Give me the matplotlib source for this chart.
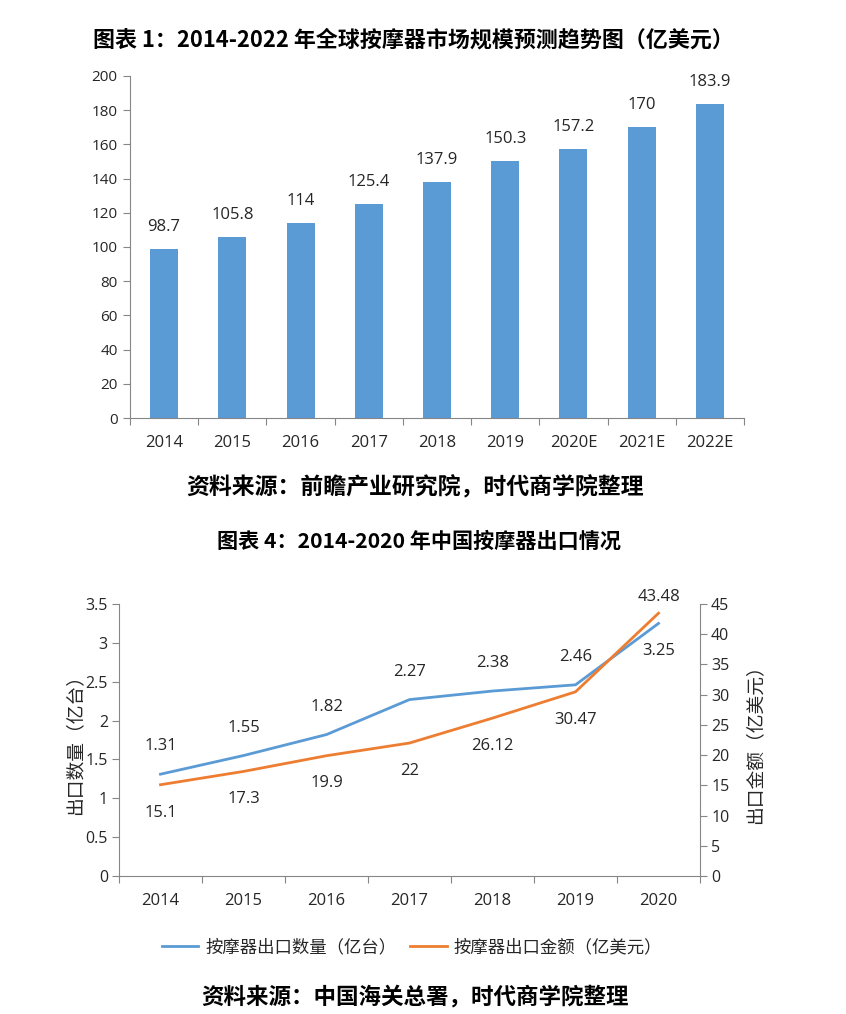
import matplotlib
matplotlib.use("Agg")
import matplotlib.pyplot as plt

plt.rcParams['font.family'] = ['Noto Sans CJK SC', 'DejaVu Sans']

# chart 1 data
years1 = ["2014", "2015", "2016", "2017", "2018", "2019", "2020E", "2021E", "2022E"]
market = [98.7, 105.8, 114, 125.4, 137.9, 150.3, 157.2, 170, 183.9]

# chart 2 data
years2 = ["2014", "2015", "2016", "2017", "2018", "2019", "2020"]
qty = [1.31, 1.55, 1.82, 2.27, 2.38, 2.46, 3.25]
amount = [15.1, 17.3, 19.9, 22, 26.12, 30.47, 43.48]

blue = "#5B9BD5"
orange = "#ED7D31"
grey = "#868686"
txt = "#262626"
numfont = ["Open Sans", "DejaVu Sans"]

fig = plt.figure(figsize=(8.46, 10.14), dpi=100)

# ---------- chart 1 ----------
ax1 = fig.add_axes([130/846, 1-418/1014, 614/846, 342/1014])
x1 = range(len(years1))
ax1.bar(x1, market, width=0.41, color=blue, zorder=2)
for i, v in enumerate(market):
    ax1.annotate(f"{v:g}", (i, v), xytext=(0, 10), textcoords="offset points",
                 ha="center", va="bottom", fontsize=12, color=txt, family=numfont)
ax1.set_xlim(-0.5, len(years1)-0.5)
ax1.set_ylim(0, 200)
ax1.set_yticks(range(0, 201, 20))
ax1.set_xticks([i-0.5 for i in range(len(years1)+1)])
ax1.set_xticklabels([])
ax1.set_xticks(list(x1), minor=True)
ax1.set_xticklabels(years1, minor=True)
ax1.tick_params(axis="x", which="minor", length=0, pad=12, labelsize=12, labelcolor=txt)
ax1.tick_params(axis="x", which="major", length=5, color=grey)
ax1.tick_params(axis="y", length=5, color=grey, labelsize=11, labelcolor=txt, pad=4)
for lab in ax1.get_xticklabels(minor=True) + ax1.get_yticklabels():
    lab.set_family(numfont)
for s in ["top", "right"]:
    ax1.spines[s].set_visible(False)
for s in ["left", "bottom"]:
    ax1.spines[s].set_color(grey)

fig.text(0.489, 1-40/1014, "图表 1：2014-2022 年全球按摩器市场规模预测趋势图（亿美元）",
         ha="center", va="center", fontsize=15.8, fontweight="bold", color="black")
fig.text(0.491, 1-488/1014, "资料来源：前瞻产业研究院，时代商学院整理",
         ha="center", va="center", fontsize=16.5, fontweight="bold", color="black")
fig.text(0.495, 1-541/1014, "图表 4：2014-2020 年中国按摩器出口情况",
         ha="center", va="center", fontsize=15.2, fontweight="bold", color="black")
fig.text(0.491, 1-997/1014, "资料来源：中国海关总署，时代商学院整理",
         ha="center", va="center", fontsize=16.2, fontweight="bold", color="black")

# ---------- chart 2 ----------
ax2 = fig.add_axes([119/846, 1-876/1014, 581/846, 272/1014])
ax3 = ax2.twinx()
x2 = list(range(len(years2)))
l1, = ax2.plot(x2, qty, color=blue, lw=2, label="按摩器出口数量（亿台）")
l2, = ax3.plot(x2, amount, color=orange, lw=2, label="按摩器出口金额（亿美元）")
ax2.set_xlim(-0.5, len(years2)-0.5)
ax2.set_ylim(0, 3.5)
ax3.set_ylim(0, 45)
ax2.set_yticks([0, 0.5, 1, 1.5, 2, 2.5, 3, 3.5])
ax2.set_yticklabels(["0", "0.5", "1", "1.5", "2", "2.5", "3", "3.5"])
ax3.set_yticks(range(0, 46, 5))
ax2.set_xticks([i-0.5 for i in range(len(years2)+1)])
ax2.set_xticklabels([])
ax2.set_xticks(x2, minor=True)
ax2.set_xticklabels(years2, minor=True)
ax2.tick_params(axis="x", which="minor", length=0, pad=12, labelsize=12, labelcolor=txt)
ax2.tick_params(axis="x", which="major", length=5, color=grey)
ax2.tick_params(axis="y", length=5, color=grey, labelsize=11.5, labelcolor=txt, pad=3)
ax3.tick_params(axis="y", length=5, color=grey, labelsize=11.5, labelcolor=txt, pad=3)
for lab in ax2.get_xticklabels(minor=True) + ax2.get_yticklabels() + ax3.get_yticklabels():
    lab.set_family(numfont)
for a in (ax2, ax3):
    a.spines["top"].set_visible(False)
    for s in ["left", "right", "bottom"]:
        a.spines[s].set_color(grey)
ax2.spines["right"].set_visible(False)
ax3.spines["left"].set_visible(False)
ax3.spines["bottom"].set_visible(False)

ax2.set_ylabel("出口数量（亿台）", fontsize=13.5, color=txt, labelpad=0)
ax3.set_ylabel("出口金额（亿美元）", fontsize=13.5, color=txt, rotation=90, labelpad=11)

for i, v in enumerate(qty):
    dy = -20 if i == len(qty)-1 else 20
    ax2.annotate(f"{v:g}", (i, v), xytext=(0, dy), textcoords="offset points",
                 ha="center", va="center", fontsize=12, color=txt, family=numfont)
for i, v in enumerate(amount):
    dy = 12 if i == len(amount)-1 else -20
    ax3.annotate(f"{v:g}", (i, v), xytext=(0, dy), textcoords="offset points",
                 ha="center", va="center", fontsize=12, color=txt, family=numfont)

fig.legend(handles=[l1, l2], loc="center", bbox_to_anchor=(0.487, 1-947/1014),
           ncol=2, frameon=False, fontsize=12.5, handlelength=2.1, columnspacing=0.8,
           handletextpad=0.4, labelcolor=txt)

fig.savefig("out.png", dpi=100, facecolor="white")
